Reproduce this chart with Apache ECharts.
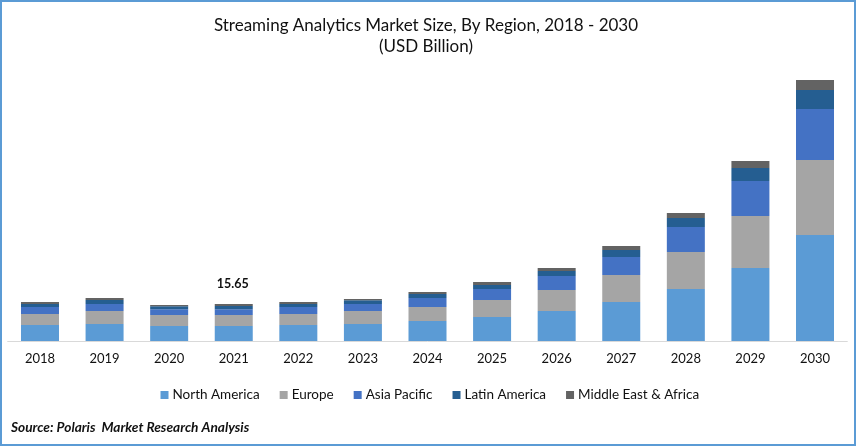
<!DOCTYPE html>
<html>
<head>
<meta charset="utf-8">
<style>
html, body { margin: 0; padding: 0; background: #fff; }
#chart { width: 856px; height: 446px; }
</style>
<script src="https://cdn.jsdelivr.net/npm/echarts@6/dist/echarts.min.js"></script>
</head>
<body>
<div id="chart"></div>
<script>
var years = ['2018', '2019', '2020', '2021', '2022', '2023', '2024', '2025', '2026', '2027', '2028', '2029', '2030'];
var northAmerica = [6.76, 7.18, 6.34, 6.34, 6.76, 7.18, 8.45, 10.14, 12.68, 16.48, 21.97, 30.84, 44.79];
var europe = [4.65, 5.49, 4.65, 4.65, 4.65, 5.49, 5.92, 7.18, 8.87, 11.41, 15.63, 21.97, 31.69];
var asiaPacific = [2.96, 2.96, 2.41, 2.41, 2.96, 2.96, 3.80, 4.65, 5.92, 7.61, 10.56, 14.79, 21.55];
var latinAmerica = [1.27, 1.69, 1.27, 1.39, 1.27, 1.56, 1.69, 1.69, 2.11, 2.96, 3.80, 5.49, 8.03];
var middleEast = [0.85, 0.85, 0.55, 0.86, 0.85, 0.55, 0.85, 1.27, 1.27, 1.69, 2.11, 2.96, 4.23];
var labelYear = '2021';
var labelText = '15.65';

var fontName = 'Lato';
var chart = echarts.init(document.getElementById('chart'));

function makeSeries(name, values, color) {
	return {
		name: name,
		type: 'bar',
		stack: 'total',
		barWidth: 38,
		itemStyle: { color: color },
		data: values
	};
}

var lastData = middleEast.map(function (v, i) {
	if (years[i] !== labelYear) return v;
	return {
		value: v,
		label: {
			show: true,
			position: 'top',
			distance: 12,
			offset: [-1, -1],
			formatter: labelText,
			color: '#111',
			fontFamily: fontName,
			fontWeight: 'bold',
			fontSize: 12.5
		}
	};
});

chart.setOption({
	animation: false,
	backgroundColor: '#fff',
	title: {
		text: 'Streaming Analytics Market Size, By Region, 2018 - 2030\n(USD Billion)',
		left: 421,
		top: 10.5,
		textAlign: 'center',
		textStyle: {
			color: '#111',
			fontFamily: fontName,
			fontWeight: 'normal',
			fontSize: 17,
			lineHeight: 21
		}
	},
	legend: {
		left: 155.5,
		top: 383,
		icon: 'rect',
		itemWidth: 8,
		itemHeight: 8,
		itemGap: 20,
		textStyle: { color: '#111', fontFamily: fontName, fontSize: 13.5, padding: [0, 0, 0, -1] },
		data: ['North America', 'Europe', 'Asia Pacific', 'Latin America', 'Middle East & Africa']
	},
	grid: { left: 7.7, right: 8.7, top: 57, height: 284 },
	xAxis: {
		type: 'category',
		data: years,
		axisLine: { lineStyle: { color: '#d9d9d9', width: 1 } },
		axisTick: { show: false },
		axisLabel: { color: '#111', fontFamily: fontName, fontSize: 13, margin: 11 }
	},
	yAxis: {
		type: 'value',
		min: 0,
		max: 120,
		show: false,
		splitLine: { show: false }
	},
	series: [
		makeSeries('North America', northAmerica, '#5B9BD5'),
		makeSeries('Europe', europe, '#A5A5A5'),
		makeSeries('Asia Pacific', asiaPacific, '#4472C4'),
		makeSeries('Latin America', latinAmerica, '#255E91'),
		makeSeries('Middle East & Africa', lastData, '#636363')
	],
	graphic: [
		{
			type: 'rect',
			shape: { x: 1, y: 1, width: 854, height: 444 },
			style: { fill: 'none', stroke: '#5B9BD5', lineWidth: 2 },
			silent: true
		},
		{
			type: 'text',
			left: 11,
			top: 421,
			style: {
				text: 'Source: Polaris  Market Research Analysis',
				fill: '#111',
				font: 'italic bold 13.7px Lato'
			}
		}
	]
});
</script>
</body>
</html>
